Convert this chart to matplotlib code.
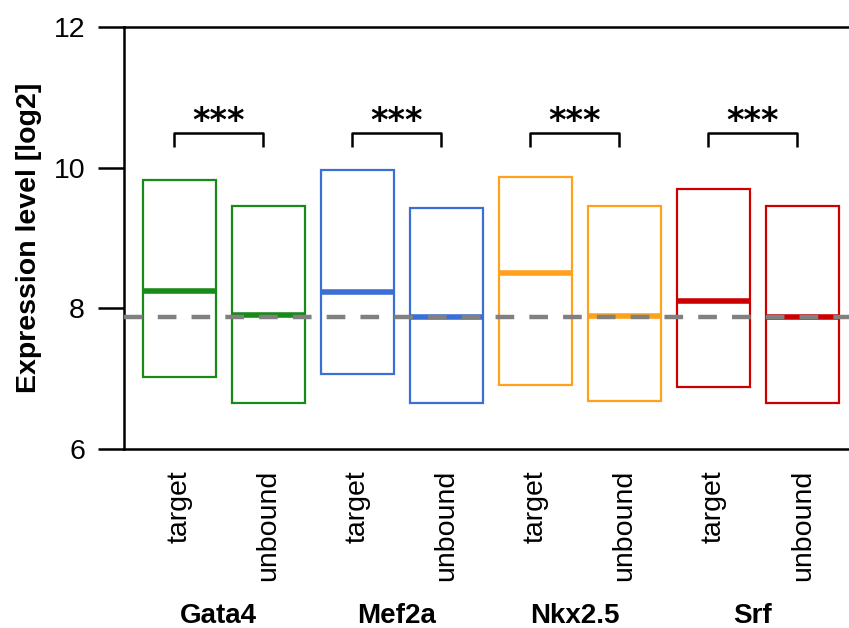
"""
Expression level of target vs unbound genes per transcription factor.
Boxes span the interquartile range, thick bar = median.
"""

import matplotlib
matplotlib.use("Agg")
import matplotlib.pyplot as plt
import matplotlib.transforms as mtransforms
import numpy as np

plt.rcParams["font.family"] = ["Liberation Sans", "DejaVu Sans"]

# ---------------------------------------------------------------------------
# Data
# ---------------------------------------------------------------------------

GENES      = ["Gata4", "Mef2a", "Nkx2.5", "Srf"]
GROUPS     = ["target", "unbound"]
COLORS     = ["#178a17", "#3a6fd6", "#ffa11a", "#cc0000"]

Q_LOW      = [7.03, 6.66, 7.06, 6.65, 6.91, 6.68, 6.88, 6.65]
Q_HIGH     = [9.83, 9.45, 9.96, 9.43, 9.87, 9.45, 9.69, 9.46]
MEDIANS    = [8.25, 7.91, 8.23, 7.87, 8.50, 7.89, 8.10, 7.88]
BASELINE   = 7.88
SIG_LABELS = ["***", "***", "***", "***"]

Y_TICKS    = [6, 8, 10, 12]

# ---------------------------------------------------------------------------
# Plot
# ---------------------------------------------------------------------------

fig = plt.figure(figsize=(8.49, 6.28), dpi=100)
ax = fig.add_axes([0.146, 0.285, 0.854, 0.672])

x = np.arange(len(GENES) * len(GROUPS))
box_w = 0.82
box_colors = [c for c in COLORS for _ in GROUPS]
low = np.array(Q_LOW)
high = np.array(Q_HIGH)

ax.bar(x, high - low, bottom=low, width=box_w, fill=False,
       edgecolor=box_colors, linewidth=1.6, zorder=2)
for xi, med, col in zip(x, MEDIANS, box_colors):
    ax.hlines(med, xi - box_w / 2 + 0.01, xi + box_w / 2 - 0.01,
              color=col, linewidth=4, zorder=3)

ax.axhline(BASELINE, color="#808080", linewidth=3.2, dashes=(4.2, 3.4), zorder=4)

# significance brackets
br_top, br_bot, off = 10.49, 10.30, -0.06
for g, lab in enumerate(SIG_LABELS):
    x0, x1 = 2 * g + off, 2 * g + 1 + off
    ax.plot([x0, x0, x1, x1], [br_bot, br_top, br_top, br_bot],
            color="black", linewidth=1.8, solid_capstyle="butt", zorder=3)
    ax.text((x0 + x1) / 2, 10.66, lab, ha="center", va="center",
            fontsize=24, fontweight="bold", family="DejaVu Sans")

ax.set_xlim(-0.62, 7.52)
ax.set_ylim(6, 12)
ax.set_yticks(Y_TICKS)
ax.set_xticks(x)
ax.set_xticklabels(GROUPS * len(GENES), rotation=90, fontsize=20.5)
ax.tick_params(axis="x", length=0, pad=15)
ax.tick_params(axis="y", direction="out", length=19, width=1.8,
               labelsize=20.5, pad=9)

for side in ["left", "top", "bottom"]:
    ax.spines[side].set_linewidth(1.8)
ax.spines["right"].set_visible(False)

ax.set_ylabel("Expression level [log2]", fontsize=20.5, fontweight="bold")
ax.yaxis.set_label_coords(-0.113, 0.5)

trans = mtransforms.blended_transform_factory(ax.transData, ax.transAxes)
for g, name in enumerate(GENES):
    ax.text(2 * g + 0.5 - 0.06, -0.395, name, transform=trans,
            ha="center", va="center", fontsize=20, fontweight="bold")

fig.savefig("out.png", dpi=100)
